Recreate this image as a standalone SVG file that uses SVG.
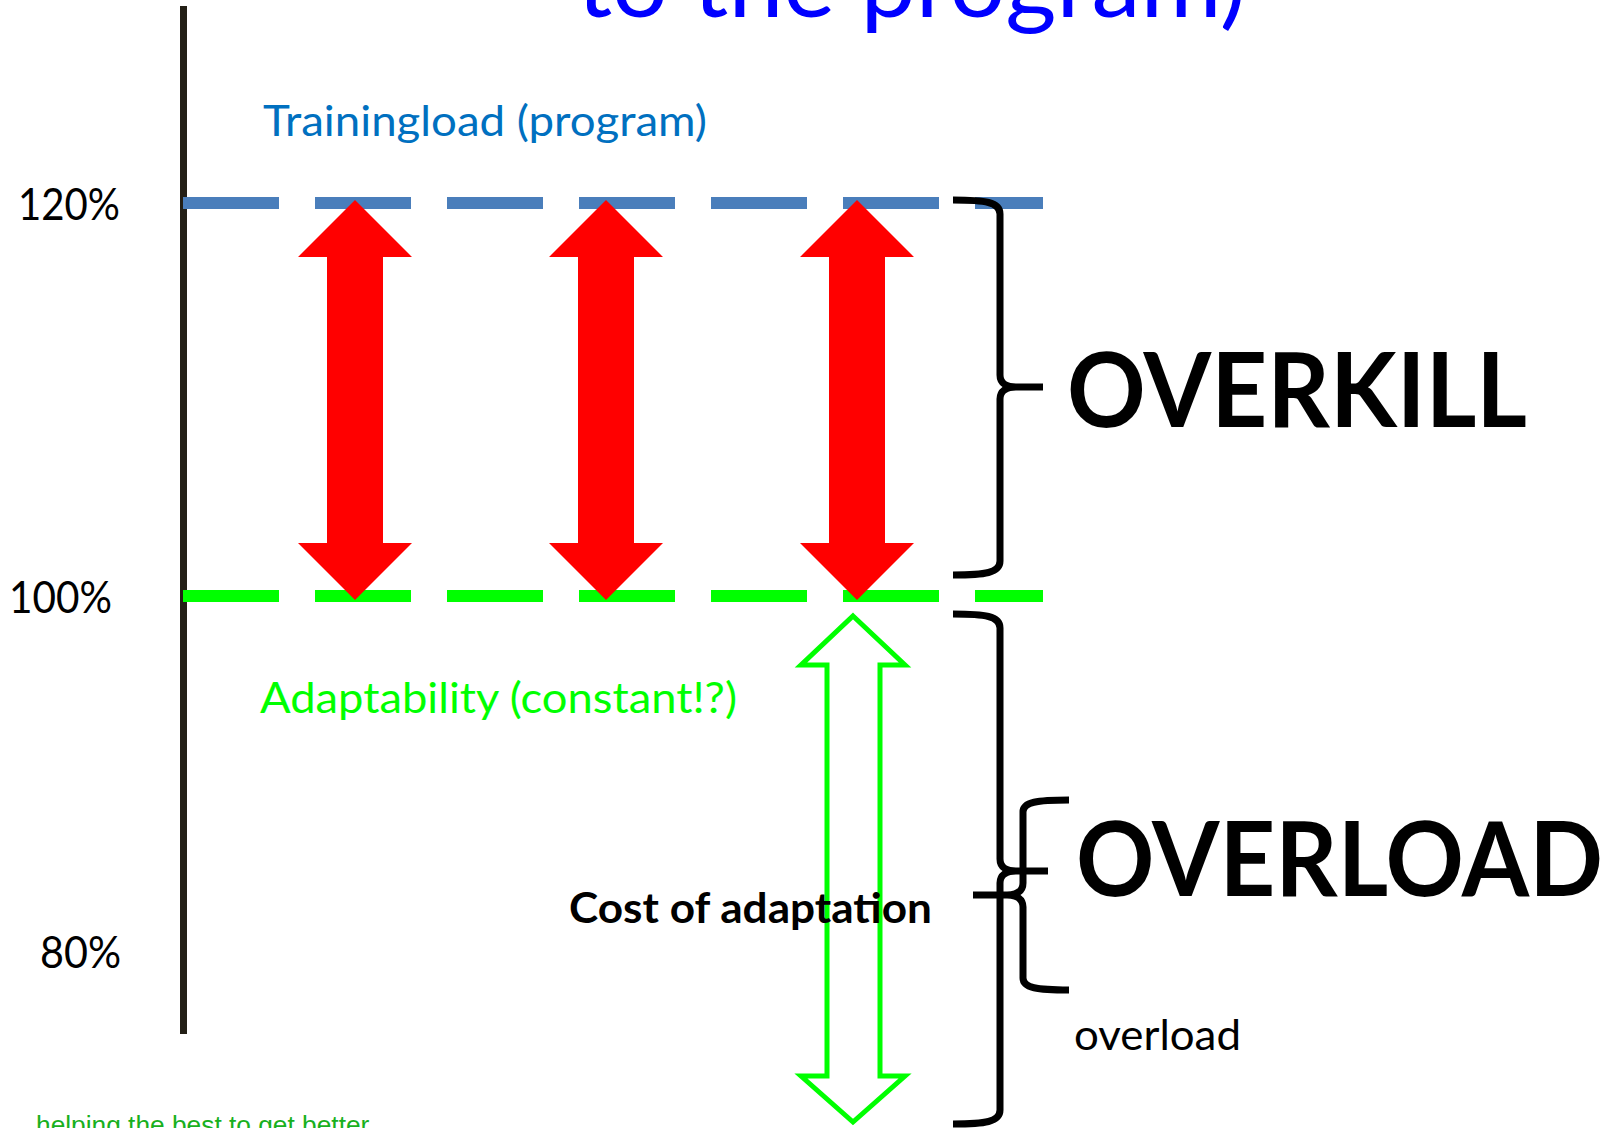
<svg xmlns="http://www.w3.org/2000/svg" width="1615" height="1128" viewBox="0 0 1615 1128">
  <style>
    .lbl { font-family: Lato, "Liberation Sans", sans-serif; }
    .bold { font-weight: 700; }
    .pct { font-size: 45px; fill: #000; }
    .mid { font-size: 42px; }
    .big { font-size: 103px; font-weight: 700; fill: #000; }
    .brace { fill: none; stroke: #000; stroke-width: 7; stroke-linecap: butt; stroke-linejoin: round; }
    .dash { fill: none; stroke-width: 12; stroke-dasharray: 96 36; }
    .red { fill: #ff0000; }
    .hollow { fill: none; stroke: #00ff00; stroke-width: 5; stroke-linejoin: miter; }
  </style>
  <rect width="1615" height="1128" fill="#fff"/>

  <!-- title line, clipped at the top edge -->
  <text id="title" class="lbl" x="577" y="17" font-size="95" fill="#0000ff" textLength="669" lengthAdjust="spacingAndGlyphs">to the program)</text>

  <!-- vertical scale axis -->
  <g id="axis">
    <line x1="183.5" y1="6" x2="183.5" y2="1034" stroke="#231f16" stroke-width="7"/>
    <text class="lbl pct" x="18" y="220" textLength="102" lengthAdjust="spacingAndGlyphs">120%</text>
    <text class="lbl pct" x="9" y="613" textLength="103" lengthAdjust="spacingAndGlyphs">100%</text>
    <text class="lbl pct" x="40" y="968" textLength="81" lengthAdjust="spacingAndGlyphs">80%</text>
  </g>

  <!-- reference levels -->
  <g id="levels">
    <line class="dash" x1="183" y1="203" x2="1043" y2="203" stroke="#4a7ebb"/>
    <line class="dash" x1="183" y1="596" x2="1043" y2="596" stroke="#00ff00"/>
  </g>

  <g id="trainingload-label">
    <text class="lbl mid" x="263" y="136" fill="#0070c0" textLength="444" lengthAdjust="spacingAndGlyphs">Trainingload (program)</text>
  </g>
  <g id="adaptability-label">
    <text class="lbl mid" x="260" y="713" fill="#00ff00" textLength="477" lengthAdjust="spacingAndGlyphs">Adaptability (constant!?)</text>
  </g>

  <!-- double-headed red arrows between the two levels -->
  <defs>
    <polygon id="dbl" points="0,200 57,257 28,257 28,543 57,543 0,600 -57,543 -28,543 -28,257 -57,257"/>
  </defs>
  <g id="gap-arrows" class="red">
    <use href="#dbl" x="355"/>
    <use href="#dbl" x="606"/>
    <use href="#dbl" x="857"/>
  </g>

  <!-- hollow green arrow: cost of adaptation -->
  <g id="cost-arrow">
    <polygon class="hollow" points="853,616 905,665 880,665 880,1076 905,1076 853,1122 801,1076 827,1076 827,665 801,665"/>
    <text class="lbl mid bold" x="569" y="923" fill="#000" textLength="363" lengthAdjust="spacingAndGlyphs">Cost of adaptation</text>
  </g>

  <!-- braces -->
  <g id="braces">
    <path class="brace" d="M953,200 C985,200 1000,202 1000,214 L1000,375 C1000,383 1006,387 1016,387 L1043,387 M1016,387 C1006,387 1000,391 1000,399 L1000,561 C1000,573 985,575 953,575"/>
    <path class="brace" d="M953,614 C985,614 1000,616 1000,628 L1000,859 C1000,867 1006,871 1016,871 L1048,871 M1016,871 C1006,871 1000,875 1000,883 L1000,1110 C1000,1122 985,1124 953,1124"/>
    <path class="brace" d="M1069,800 C1037,800 1023,802 1023,812 L1023,883 C1023,891 1017,895 1007,895 L973,895 M1007,895 C1017,895 1023,899 1023,907 L1023,978 C1023,988 1037,990 1069,990"/>
  </g>

  <g id="overkill">
    <text class="lbl big" x="1067" y="427" textLength="460" lengthAdjust="spacingAndGlyphs">OVERKILL</text>
  </g>
  <g id="overload">
    <text class="lbl big" x="1076" y="896" textLength="527" lengthAdjust="spacingAndGlyphs">OVERLOAD</text>
    <text class="lbl mid" x="1074" y="1050" fill="#000" textLength="167" lengthAdjust="spacingAndGlyphs">overload</text>
  </g>

  <!-- footer tagline -->
  <text id="footer" x="36" y="1134" font-family="'Liberation Sans', Arial, sans-serif" font-size="26.3" fill="#18b020">helping the best to get better</text>
</svg>
